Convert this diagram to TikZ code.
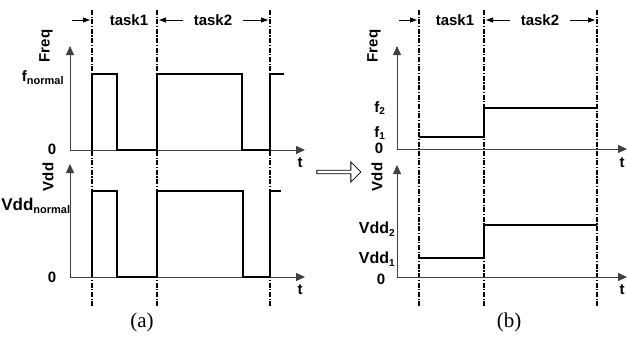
\documentclass[tikz,border=0pt]{standalone}
\usepackage{fontspec}
\setmainfont{Liberation Sans}
\newfontfamily\capfont{Liberation Serif}
\usetikzlibrary{arrows.meta,shapes.arrows}
\begin{document}
\begin{tikzpicture}[x=1pt,y=-1pt,
  lbl/.style={font=\bfseries\fontsize{15}{15}\selectfont, inner sep=0pt},
  biglbl/.style={font=\bfseries\fontsize{17}{17}\selectfont, inner sep=0pt},
  midlbl/.style={font=\bfseries\fontsize{16}{16}\selectfont, inner sep=0pt},
  tasklbl/.style={font=\bfseries\fontsize{15}{15}\selectfont, inner sep=0pt},
  axis/.style={line width=0.8pt, draw=black!75, -{Triangle[length=9pt,width=8pt]}},
  sig/.style={line width=1.5pt, line join=miter},
  bound/.style={line width=1.1pt, dash pattern=on 5pt off 1.6pt on 1.2pt off 1.6pt},
  span/.style={line width=0.8pt, -{Triangle[length=7pt,width=5pt]}},
  capt/.style={font=\capfont\fontsize{21}{21}\selectfont, inner sep=0pt}]
\useasboundingbox (0,0) rectangle (627,338);

% ===== Left panel (a) =====
\coordinate (aFo) at (70,150); \coordinate (aFt) at (70,46); \coordinate (aFx) at (305,150);
\coordinate (aVo) at (70,277); \coordinate (aVt) at (70,164); \coordinate (aVx) at (305,277);
\foreach \n/\x in {1/92,2/157,3/270}{
  \coordinate (aL\n t) at (\x,10); \coordinate (aL\n b) at (\x,307);
}
\foreach \n in {1,2,3}{ \draw[bound] (aL\n t) -- (aL\n b); }
\draw[axis] (aFo) -- (aFt);
\draw[axis] (aFo) -- (aFx);
\draw[axis] (aVo) -- (aVt);
\draw[axis] (aVo) -- (aVx);
\coordinate (aA1s) at (72,20); \coordinate (aA1e) at (90,20);
\coordinate (aA2s) at (183,20); \coordinate (aA2e) at (159,20);
\coordinate (aA3s) at (243,20); \coordinate (aA3e) at (268,20);
\draw[span] (aA1s) -- (aA1e);
\draw[span] (aA2s) -- (aA2e);
\draw[span] (aA3s) -- (aA3e);
\node[tasklbl] (aT1) at (129,20) {task1};
\node[tasklbl] (aT2) at (213,20) {task2};
\node[lbl, rotate=90] (aFreq) at (46,46) {Freq};
\node[lbl] (aFn) at (43,78) {f\textsubscript{\fontsize{11}{11}\selectfont normal}};
\node[lbl] (aF0) at (52,149) {0};
\node[lbl] (aFtl) at (300,163) {t};
\node[lbl, rotate=90] (aVdd) at (48,177) {Vdd};
\node[biglbl] (aVn) at (36,206) {Vdd\textsubscript{\fontsize{11}{11}\selectfont normal}};
\node[lbl] (aV0) at (52,277) {0};
\node[lbl] (aVtl) at (300,290) {t};
\draw[sig] (92,150) -- (92,74) -- (117,74) -- (117,150) -- (157,150) -- (157,74) -- (242,74) -- (242,150) -- (270,150) -- (270,74) -- (284,74);
\draw[sig] (92,277) -- (92,191) -- (117,191) -- (117,277) -- (157,277) -- (157,191) -- (243,191) -- (243,277) -- (270,277) -- (270,191) -- (281,191);
\node[capt] (capa) at (142,322) {(a)};

% ===== Hollow arrow =====
\node[single arrow, draw, line width=0.8pt, fill=white, minimum height=44pt, minimum width=20pt,
  single arrow head extend=7.5pt, inner sep=1.2pt, anchor=center] (conv) at (338,172) {};

% ===== Right panel (b) =====
\coordinate (bFo) at (397,149); \coordinate (bFt) at (397,46); \coordinate (bFx) at (627,149);
\coordinate (bVo) at (397,277); \coordinate (bVt) at (397,165); \coordinate (bVx) at (627,277);
\foreach \n/\x in {1/419,2/484,3/597}{
  \coordinate (bL\n t) at (\x,10); \coordinate (bL\n b) at (\x,307);
}
\foreach \n in {1,2,3}{ \draw[bound] (bL\n t) -- (bL\n b); }
\draw[axis] (bFo) -- (bFt);
\draw[axis] (bFo) -- (bFx);
\draw[axis] (bVo) -- (bVt);
\draw[axis] (bVo) -- (bVx);
\coordinate (bA1s) at (399,20); \coordinate (bA1e) at (417,20);
\coordinate (bA2s) at (510,20); \coordinate (bA2e) at (486,20);
\coordinate (bA3s) at (570,20); \coordinate (bA3e) at (595,20);
\draw[span] (bA1s) -- (bA1e);
\draw[span] (bA2s) -- (bA2e);
\draw[span] (bA3s) -- (bA3e);
\node[tasklbl] (bT1) at (455,20) {task1};
\node[tasklbl] (bT2) at (540,20) {task2};
\node[lbl, rotate=90] (bFreq) at (374,46) {Freq};
\node[lbl] (bF2) at (380,108) {f\textsubscript{\fontsize{10}{10}\selectfont 2}};
\node[lbl] (bF1) at (380,133) {f\textsubscript{\fontsize{10}{10}\selectfont 1}};
\node[lbl] (bF0) at (379,148) {0};
\node[lbl] (bFtl) at (622,163) {t};
\node[lbl, rotate=90] (bVdd) at (377,177) {Vdd};
\node[midlbl] (bV2) at (377,229) {Vdd\textsubscript{\fontsize{10}{10}\selectfont 2}};
\node[midlbl] (bV1) at (377,259) {Vdd\textsubscript{\fontsize{10}{10}\selectfont 1}};
\node[lbl] (bV0) at (381,279) {0};
\node[lbl] (bVtl) at (622,290) {t};
\draw[sig] (419,137) -- (484,137) -- (484,108) -- (597,108);
\draw[sig] (419,258) -- (484,258) -- (484,225) -- (597,225);
\node[capt] (capb) at (509,322) {(b)};
\end{tikzpicture}
\end{document}
